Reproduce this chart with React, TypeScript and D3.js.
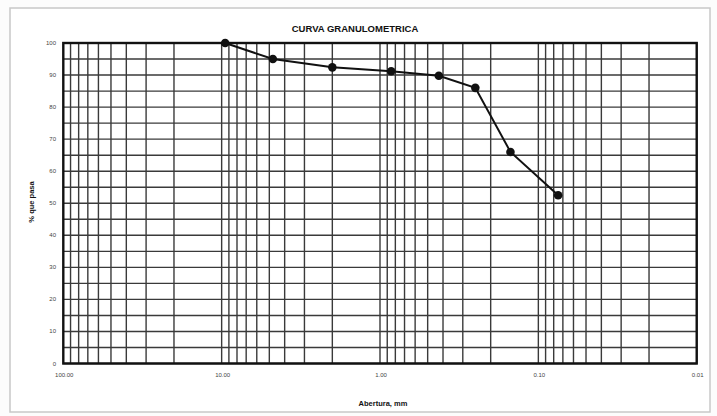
import React from "react";
import * as d3 from "d3";

// Sieve openings (mm) and cumulative percent passing
const aperturas = [9.5, 4.75, 2.0, 0.85, 0.425, 0.25, 0.15, 0.075];
const pasa = [100, 95, 92.4, 91.2, 89.8, 86, 66, 52.5];

const xTicks = [100, 10, 1, 0.1, 0.01];
const yTicks = [0, 10, 20, 30, 40, 50, 60, 70, 80, 90, 100];
const yGrid = d3.range(0, 101, 5);

const W = 717;
const H = 416;
const m = { left: 63.3, right: 696.7, top: 43, bottom: 363.5 };

export default function App() {
  const x = d3.scaleLog().domain([100, 0.01]).range([m.left, m.right]);
  const y = d3.scaleLinear().domain([0, 100]).range([m.bottom, m.top]);

  // log grid: 1..9 per decade
  const xGrid: number[] = [];
  for (let k = -2; k < 2; k++) {
    for (let i = 1; i <= 9; i++) xGrid.push(i * Math.pow(10, k));
  }

  const line = d3
    .line<number>()
    .x((_, i) => x(aperturas[i]))
    .y((d) => y(d));

  const fmt = (v: number) => v.toFixed(2);

  return (
    <svg
      width={W}
      height={H}
      style={{ position: "absolute", left: 0, top: 0, background: "#fcfcfc" }}
      fontFamily="'Liberation Sans', Arial, sans-serif"
    >
      <rect x={0} y={0} width={W} height={H} fill="#fcfcfc" />
      <rect x={10} y={8} width={700} height={404} fill="#ffffff" stroke="#c8c8c8" strokeWidth={1.5} />

      <text x={355} y={32} textAnchor="middle" fontSize={9.5} fontWeight="bold" fill="#111">
        CURVA GRANULOMETRICA
      </text>

      <g stroke="#3a3a3a" strokeWidth={1.4}>
        {xGrid.map((v, i) => (
          <line key={"vx" + i} x1={x(v)} x2={x(v)} y1={m.top} y2={m.bottom} />
        ))}
        {yGrid.map((v) => (
          <line key={"hy" + v} x1={m.left} x2={m.right} y1={y(v)} y2={y(v)} />
        ))}
      </g>

      <rect
        x={m.left}
        y={m.top}
        width={m.right - m.left}
        height={m.bottom - m.top}
        fill="none"
        stroke="#111"
        strokeWidth={2.4}
      />

      <g fontSize={6} fill="#444">
        {yTicks.map((v) => (
          <text key={"yt" + v} x={56} y={y(v) + 2} textAnchor="end">
            {v}
          </text>
        ))}
        {xTicks.map((v) => (
          <text key={"xt" + v} x={x(v) + 1} y={377} textAnchor="middle">
            {fmt(v)}
          </text>
        ))}
      </g>

      <path d={line(pasa) ?? ""} fill="none" stroke="#111" strokeWidth={2} />
      {pasa.map((v, i) => (
        <circle key={"p" + i} cx={x(aperturas[i])} cy={y(v)} r={4.3} fill="#111" />
      ))}

      <text x={383} y={406} textAnchor="middle" fontSize={7.5} fontWeight="bold" fill="#111">
        Abertura, mm
      </text>
      <text
        transform={`translate(34,202) rotate(-90)`}
        textAnchor="middle"
        fontSize={7.5}
        fontWeight="bold"
        fill="#111"
      >
        % que pasa
      </text>
    </svg>
  );
}
